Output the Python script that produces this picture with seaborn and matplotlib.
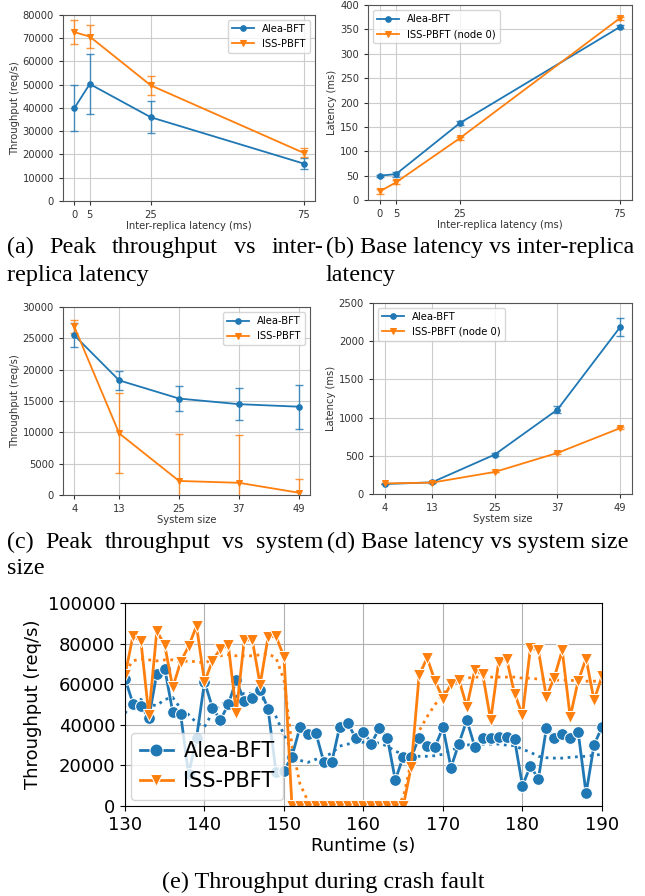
import numpy as np
import pandas as pd
import matplotlib
matplotlib.use('Agg')
import matplotlib.pyplot as plt
import seaborn as sns

BLUE = '#1f77b4'
ORANGE = '#ff7f0e'

# (a) peak throughput vs inter-replica latency
lat_x = [0, 5, 25, 75]
a_alea = [40000, 50300, 36000, 16100]
a_alea_err = [9900, 13000, 6900, 2300]
a_iss = [72600, 70700, 49700, 20700]
a_iss_err = [5300, 4900, 4200, 1900]

# (b) base latency vs inter-replica latency
b_alea = [50, 53, 158, 355]
b_alea_err = [2, 5, 4, 3]
b_iss = [18, 36, 127, 373]
b_iss_err = [5, 4, 3, 3]

# (c) peak throughput vs system size
size_x = [4, 13, 25, 37, 49]
c_alea = [25500, 18300, 15400, 14500, 14100]
c_alea_err = [1900, 1500, 2050, 2550, 3500]
c_iss = [26900, 9850, 2250, 1950, 370]
c_iss_err = [1000, 6400, 7450, 7600, 2130]

# (d) base latency vs system size
d_alea = [130, 152, 515, 1104, 2186]
d_alea_err = [5, 5, 15, 45, 115]
d_iss = [138, 148, 288, 537, 862]
d_iss_err = [4, 4, 6, 10, 10]

# (e) throughput during crash fault
runtime = list(range(130, 191))
e_alea = [62800, 50500, 49300, 43400, 65200, 67700, 46400, 45200, 15700, 33600,
          61100, 48500, 42300, 50200, 62000, 51600, 53400, 57400, 47900, 16600,
          17500, 24300, 38700, 35400, 36100, 21800, 21500, 39000, 41000, 33600,
          36600, 30800, 38500, 33600, 12800, 24300, 24300, 33600, 29700, 29300,
          38700, 18900, 30800, 42300, 29200, 33600, 33300, 34100, 34100, 32800,
          10000, 19800, 13300, 38200, 33600, 35700, 33600, 36600, 6200, 30000,
          39000]
e_iss = [64400, 83800, 81300, 44800, 86200, 79200, 58400, 71000, 78700, 88700,
         61100, 71500, 77500, 79200, 45900, 81600, 82000, 59800, 83300, 83600,
         73400, 0, 0, 0, 0, 0, 0, 0, 0, 0,
         0, 0, 0, 0, 0, 0, 19300, 64400, 73000, 61600,
         52900, 60000, 62300, 48900, 66900, 64800, 42300, 71000, 72600, 55400,
         44800, 78000, 76700, 53800, 63300, 76700, 43900, 61600, 72600, 52100,
         63900]
e_alea_avg = [45600, 52000, 52500, 50000, 49500, 52500, 53500, 48000, 45000, 41000,
              39000, 46000, 50000, 51500, 54000, 55500, 55500, 54500, 50000, 44000,
              35000, 27500, 22500, 21500, 23000, 24300, 26000, 29500, 30500, 31000,
              31500, 31500, 31000, 29500, 27000, 25500, 24800, 24500, 24500, 24800,
              25500, 27500, 29000, 30000, 30500, 30500, 30500, 30500, 30000, 29700,
              28000, 26500, 24500, 23800, 23600, 23600, 24000, 24300, 24500, 25000,
              25500]
e_iss_avg = [66000, 71500, 72500, 72000, 71500, 72000, 72000, 71000, 71500, 71000,
             70500, 72000, 74000, 74500, 74000, 74000, 74000, 74500, 75000, 73000,
             62000, 30000, 11000, 2500, 0, 0, 0, 0, 0, 0,
             0, 0, 0, 0, 0, 4000, 22000, 37000, 44000, 50000,
             55000, 59500, 62000, 63000, 63500, 63500, 63500, 63500, 63500, 63500,
             63000, 63000, 62500, 62500, 62000, 62000, 62000, 61500, 61500, 61500,
             61500]

W, H = 645, 896
fig = plt.figure(figsize=(W / 100, H / 100), dpi=100)
SMALL = 7.2


def small_panel(rect, x, alea, alea_err, iss, iss_err, iss_label, ylabel, xlabel,
                ylim, yticks, legend_loc):
    ax = fig.add_axes(rect)
    df = pd.DataFrame({'x': x, 'alea': alea, 'iss': iss})
    ax.errorbar(x, alea, yerr=alea_err, fmt='none', ecolor=BLUE, capsize=3,
                elinewidth=1, alpha=0.8)
    ax.errorbar(x, iss, yerr=iss_err, fmt='none', ecolor=ORANGE, capsize=3,
                elinewidth=1, alpha=0.8)
    sns.lineplot(data=df, x='x', y='alea', ax=ax, color=BLUE, marker='o',
                 markersize=4, linewidth=1.3, mec=BLUE, label='Alea-BFT')
    sns.lineplot(data=df, x='x', y='iss', ax=ax, color=ORANGE, marker='v',
                 markersize=4, linewidth=1.3, mec=ORANGE, label=iss_label)
    ax.set_xticks(x)
    ax.set_ylim(*ylim)
    ax.set_yticks(yticks)
    ax.grid(True, color='#cccccc', linewidth=0.8)
    ax.set_axisbelow(True)
    ax.tick_params(labelsize=SMALL, length=3, colors='#333333')
    for s in ax.spines.values():
        s.set_color('#555555')
    ax.set_xlabel(xlabel, fontsize=SMALL, color='#333333', labelpad=1)
    ax.set_ylabel(ylabel, fontsize=SMALL, color='#333333', labelpad=2)
    ax.legend(loc=legend_loc, fontsize=SMALL, handlelength=2.2)
    return ax


small_panel([0.0977, 0.7757, 0.3907, 0.2076], lat_x, a_alea, a_alea_err, a_iss,
            a_iss_err, 'ISS-PBFT', 'Throughput (req/s)', 'Inter-replica latency (ms)',
            (0, 80000), range(0, 80001, 10000), 'upper right')
small_panel([0.5705, 0.7768, 0.4093, 0.2176], lat_x, b_alea, b_alea_err, b_iss,
            b_iss_err, 'ISS-PBFT (node 0)', 'Latency (ms)', 'Inter-replica latency (ms)',
            (0, 400), range(0, 401, 50), 'upper left')
small_panel([0.0977, 0.4475, 0.383, 0.2098], size_x, c_alea, c_alea_err, c_iss,
            c_iss_err, 'ISS-PBFT', 'Throughput (req/s)', 'System size',
            (0, 30000), range(0, 30001, 5000), 'upper right')
small_panel([0.5783, 0.4487, 0.4016, 0.2132], size_x, d_alea, d_alea_err, d_iss,
            d_iss_err, 'ISS-PBFT (node 0)', 'Latency (ms)', 'System size',
            (0, 2500), range(0, 2501, 500), 'upper left')

# (e)
ax = fig.add_axes([0.1938, 0.1004, 0.7395, 0.2266])
edf = pd.DataFrame({'t': runtime, 'alea': e_alea, 'iss': e_iss,
                    'alea_avg': e_alea_avg, 'iss_avg': e_iss_avg})
ax.plot(edf['t'], edf['alea_avg'], ':', color=BLUE, linewidth=2)
ax.plot(edf['t'], edf['iss_avg'], ':', color=ORANGE, linewidth=2)
sns.lineplot(data=edf, x='t', y='alea', ax=ax, color=BLUE, marker='o',
             markersize=8.5, linewidth=2, label='Alea-BFT')
sns.lineplot(data=edf, x='t', y='iss', ax=ax, color=ORANGE, marker='v',
             markersize=8.5, linewidth=2, label='ISS-PBFT')
ax.set_xlim(130, 190)
ax.set_ylim(0, 100000)
ax.set_xticks(range(130, 191, 10))
ax.set_yticks(range(0, 100001, 20000))
ax.grid(True, color='#b0b0b0', linewidth=0.8)
ax.set_axisbelow(True)
ax.tick_params(labelsize=13)
ax.set_xlabel('Runtime (s)', fontsize=13, labelpad=2)
ax.set_ylabel('Throughput (req/s)', fontsize=13)
ax.legend(loc='lower left', fontsize=15, handlelength=1.6, handletextpad=0.5,
          borderaxespad=0.3, markerscale=1.1)

# captions (justified first lines like the paper layout)
cap = dict(fontfamily='Liberation Serif', fontsize=17.4, va='baseline')


def justified(words, x0, x1, y):
    texts = [fig.text(x0 / W, 1 - y / H, w, **cap) for w in words]
    fig.canvas.draw()
    r = fig.canvas.get_renderer()
    widths = [t.get_window_extent(r).width for t in texts]
    gap = (x1 - x0 - sum(widths)) / (len(words) - 1)
    xp = x0
    for t, w in zip(texts, widths):
        t.set_x(xp / W)
        xp += w + gap


justified(['(a)', 'Peak', 'throughput', 'vs', 'inter-'], 7, 323, 253)
fig.text(7 / W, 1 - 281 / H, 'replica latency', **cap)
fig.text(326 / W, 1 - 253 / H, '(b) Base latency vs inter-replica', **cap)
fig.text(326 / W, 1 - 281 / H, 'latency', **cap)
justified(['(c)', 'Peak', 'throughput', 'vs', 'system'], 7, 323, 548)
fig.text(7 / W, 1 - 574 / H, 'size', **cap)
fig.text(327 / W, 1 - 548 / H, '(d) Base latency vs system size', **cap)
fig.text(323 / W, 1 - 888 / H, '(e) Throughput during crash fault', ha='center', **cap)

fig.savefig('out.png', dpi=100)
